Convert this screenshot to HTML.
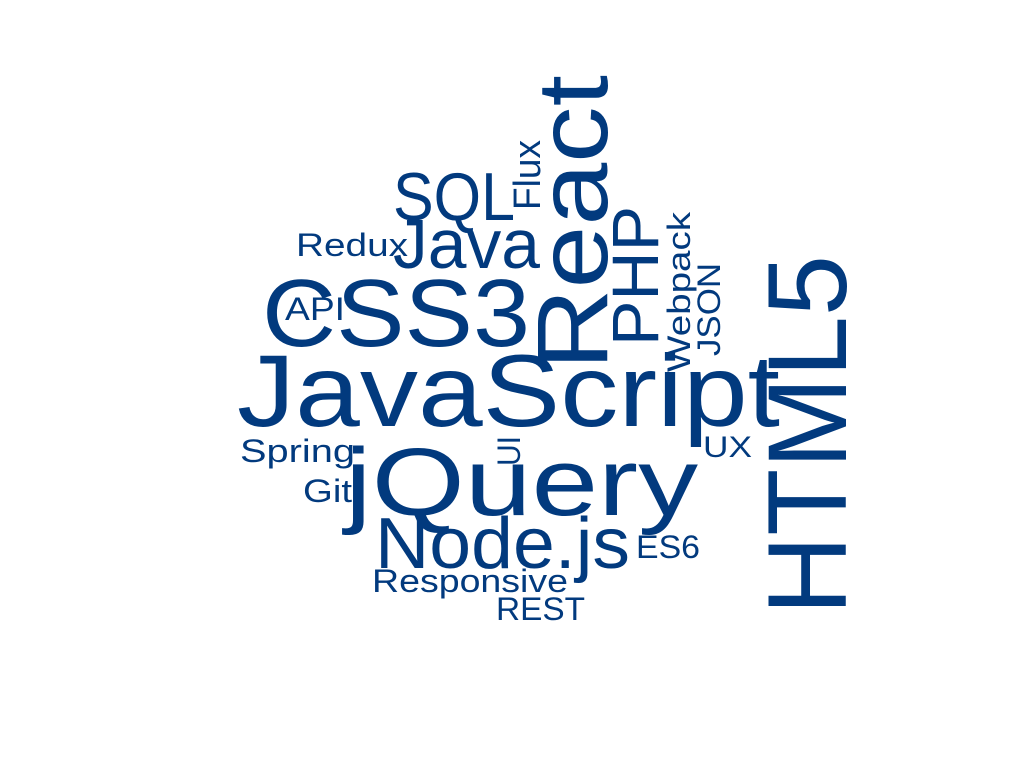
<!DOCTYPE html>
<html><head><meta charset="utf-8"><style>
html,body{margin:0;padding:0;background:#fff;}
svg text{font-family:"Liberation Sans","DejaVu Sans",sans-serif;fill:#023a7e;}
</style></head><body>
<svg width="1024" height="768" viewBox="0 0 1024 768" xmlns="http://www.w3.org/2000/svg">
<rect width="1024" height="768" fill="#fff"/>
<g id="words"></g>
</svg>
<script>
// word, font size, x (or baseline x when rotated), y (baseline or start y), text length, rotated
const words = ["JavaScript","jQuery","CSS3","React","HTML5","SQL","Java","PHP","Node.js","Flux","Webpack","JSON","Redux","API","Spring","Git","UI","UX","ES6","Responsive","REST"];
const sizes = [102,96,96,100,112,68,70,66,72,38,32,32,32,32,32,32,32,30,32,32,32];
const xs = [237,345,262,607,846,393,393,658,375,540,690,720,296,285,240,303,520,703,636,372,496];
const ys = [426,515,346,370,615,220,268,346,568,210,372,356,256,320,462,502,466,457,558,592,620];
const lens = [543,353,268,295,360,122,147,140,255,70,160,93,112,60,115,49,30,49,64,196,89];
const rot = [0,0,0,1,1,0,0,1,0,1,1,1,0,0,0,0,1,0,0,0,0];
const g = document.getElementById('words');
const NS = 'http://www.w3.org/2000/svg';
for (let i = 0; i < words.length; i++) {
  const t = document.createElementNS(NS, 'text');
  
  
  t.setAttribute('font-size', sizes[i]);
  t.setAttribute('textLength', lens[i]);
  t.setAttribute('lengthAdjust', 'spacingAndGlyphs');
  if (rot[i]) {
    t.setAttribute('transform', 'translate(' + xs[i] + ',' + ys[i] + ') rotate(-90)');
    t.setAttribute('x', 0); t.setAttribute('y', 0);
  } else {
    t.setAttribute('x', xs[i]); t.setAttribute('y', ys[i]);
  }
  t.textContent = words[i];
  g.appendChild(t);
}
</script>
</body></html>
